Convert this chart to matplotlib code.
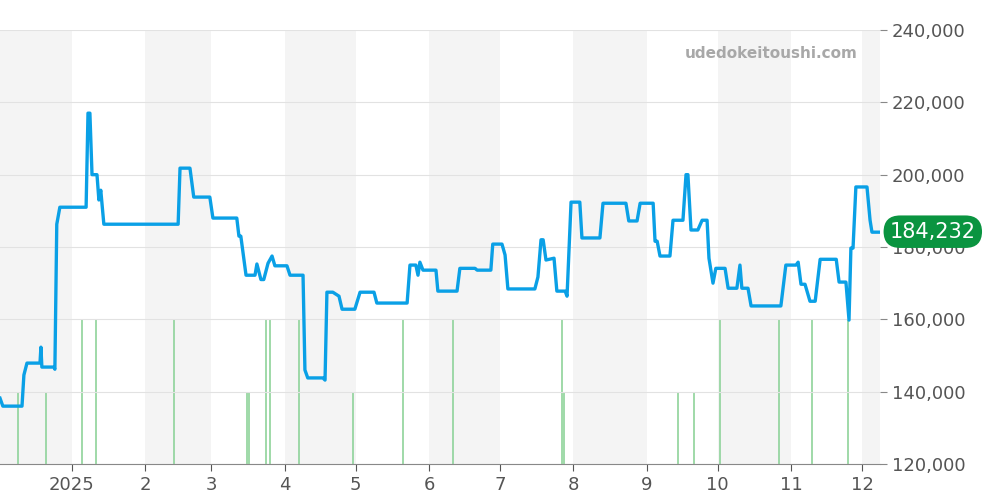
import matplotlib.pyplot as plt
from matplotlib.ticker import FuncFormatter

# days since 2025-01-01, price in yen
price_days = [-30.4, -29.2, -21.1, -20.3, -19.0, -13.5, -13.1, -12.7, -7.6, -7.2, -6.4, -5.1,
              6.0, 6.8, 7.6, 8.5, 10.6, 11.4, 12.2, 13.5, 44.9, 45.7, 49.9, 51.5, 58.3, 59.6,
              69.7, 70.6, 71.4, 73.6, 77.4, 78.2, 79.9, 81.1, 82.9, 84.6, 85.8, 90.9, 92.2,
              97.7, 98.5, 99.7, 106.1, 107.0, 107.8, 110.3, 112.9, 114.2, 119.6, 121.8, 127.7,
              128.9, 141.7, 142.9, 145.4, 146.3, 147.1, 148.4, 153.9, 154.7, 162.8, 164.0,
              170.4, 171.3, 177.1, 177.9, 181.8, 183.1, 184.3, 195.7, 197.0, 198.3, 199.2,
              200.4, 203.8, 205.0, 208.5, 209.3, 211.0, 214.7, 215.6, 223.2, 224.5, 234.2,
              235.4, 238.9, 240.2, 245.7, 246.5, 247.4, 248.6, 252.8, 254.1, 258.3, 259.6,
              260.4, 261.7, 264.6, 266.4, 268.5, 269.3, 271.0, 272.2, 276.1, 277.4, 281.1,
              282.4, 283.2, 285.8, 287.1, 299.7, 301.8, 306.1, 307.0, 308.2, 309.9, 312.0,
              314.2, 316.3, 323.1, 324.3, 327.2, 328.5, 329.3, 330.2, 331.4, 336.1, 337.4,
              338.2, 341.6]
prices = [138200, 136000, 136000, 144600, 147900, 147900, 152300, 146800, 146800, 146200, 186300, 191000,
          191000, 217000, 217000, 200000, 200000, 193000, 195700, 186300, 186300, 201800, 201800, 193800,
          193800, 188000, 188000, 183000, 183000, 172200, 172200, 175300, 171000, 171000, 175500, 177500,
          174800, 174800, 172200, 172200, 146000, 143800, 143800, 143200, 167500, 167500, 166400, 162800,
          162800, 167500, 167500, 164500, 164500, 175000, 175000, 172200, 175800, 173600, 173600, 167800,
          167800, 174100, 174100, 173600, 173600, 180800, 180800, 177800, 168400, 168400, 171700, 182000,
          182000, 176400, 176900, 167800, 167800, 166400, 192400, 192400, 182500, 182500, 192100, 192100,
          187200, 187200, 192100, 192100, 181600, 181600, 177500, 177500, 187400, 187400, 200000, 200000,
          184700, 184700, 187400, 187400, 176900, 170000, 174100, 174100, 168600, 168600, 175000, 168600,
          168600, 163700, 163700, 175000, 175000, 175800, 169700, 169700, 165000, 165000, 176600, 176600,
          170300, 170300, 159800, 179700, 179700, 196600, 196600, 187400, 184100, 184100]

volume_days = [-22.8, -11.0, 4.2, 10.1, 43.1, 74.0, 74.9, 82.1, 83.7, 96.0, 118.8, 140.0, 161.1,
               207.2, 208.1, 256.3, 263.0, 274.0, 298.9, 312.9, 328.0]
volume_tops = [140000, 140000, 160000, 160000, 160000, 140000, 140000, 160000, 160000, 160000, 140000,
               160000, 160000, 160000, 140000, 140000, 140000, 160000, 160000, 160000, 160000]

month_starts = [0, 31, 59, 90, 120, 151, 181, 212, 243, 273, 304, 334]
month_labels = ["2025", "2", "3", "4", "5", "6", "7", "8", "9", "10", "11", "12"]
shaded = [(-31, 0), (31, 59), (90, 120), (151, 181), (212, 243), (273, 304), (334, 365)]
last_price = 184232

fig = plt.figure(figsize=(10, 5), dpi=100)
ax = fig.add_axes([0.0, 0.072, 0.88, 0.868])

for a, b in shaded:
    ax.axvspan(a, b, color="#f4f4f4", zorder=0, lw=0)
ax.vlines(volume_days, 120000, volume_tops, color="#8fd39a", lw=1.2, zorder=1)
ax.plot(price_days, prices, color="#0aa0e6", lw=2.4, zorder=3)

ax.set_xlim(-30.4, 341.6)
ax.set_ylim(120000, 240000)
ax.set_yticks(range(120000, 240001, 20000))
ax.yaxis.set_major_formatter(FuncFormatter(lambda v, p: f"{int(v):,}"))
ax.yaxis.tick_right()
ax.set_xticks(month_starts)
ax.set_xticklabels(month_labels)
ax.tick_params(axis="both", labelsize=13, colors="#555555", length=5)
ax.tick_params(axis="y", colors="#888888", labelcolor="#555555")
ax.grid(axis="y", color="#e2e2e2", lw=0.8)
for s in ["top", "left", "right"]:
    ax.spines[s].set_visible(False)
ax.spines["bottom"].set_color("#888888")

ax.text(0.975, 0.945, "udedokeitoushi.com", transform=ax.transAxes, ha="right", va="center",
        fontsize=11, fontweight="bold", color="#a8a8a8")
ax.text(1.06, (last_price - 120000) / 120000, f"{last_price:,}", transform=ax.transAxes,
        ha="center", va="center", fontsize=15, color="white", zorder=5, clip_on=False,
        bbox=dict(boxstyle="round,pad=0.3,rounding_size=0.8", fc="#0a9440", ec="none"))

fig.savefig("out.png")
